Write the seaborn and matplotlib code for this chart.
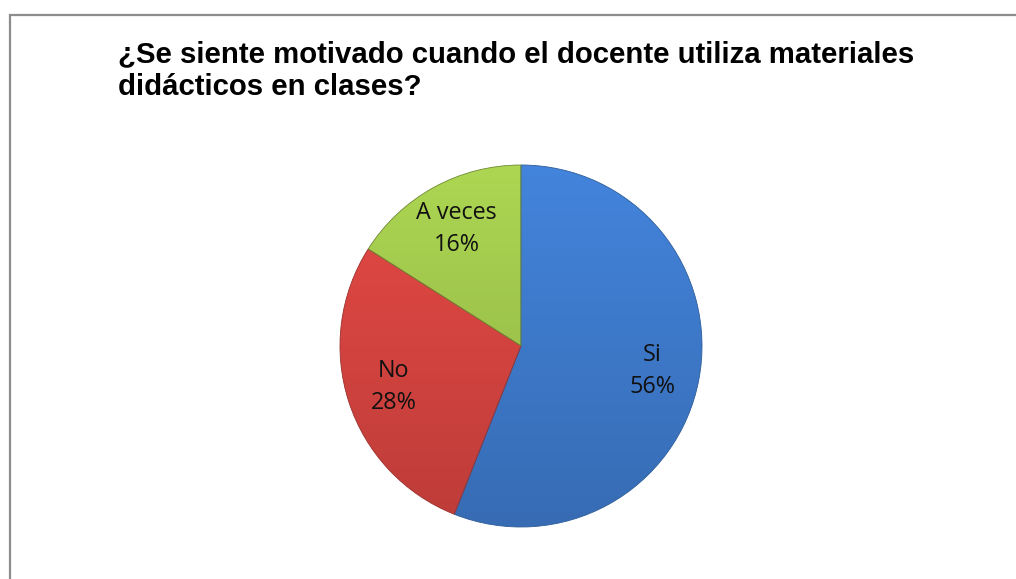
import matplotlib
matplotlib.use("Agg")
import matplotlib.pyplot as plt
import seaborn as sns
import numpy as np
from matplotlib.patches import Rectangle
from matplotlib.colors import to_rgb

categories = ["Si", "No", "A veces"]
values = [56, 28, 16]
colors = ["#3D78C8", "#D2433F", "#9DC34B"]
title_lines = ["¿Se siente motivado cuando el docente utiliza materiales",
               "didácticos en clases?"]

sns.set_theme(style="white")
plt.rcParams['font.family'] = ['Liberation Sans', 'DejaVu Sans']

fig = plt.figure(figsize=(10.16, 5.79), dpi=100)
fig.patch.set_facecolor("white")

# outer frame
fig.patches.append(Rectangle((9.5/1016, -0.1), 1.2, (579-14.5)/579 + 0.1,
                             transform=fig.transFigure, fill=False,
                             edgecolor="#8c8c8c", linewidth=1.6))

for i, line in enumerate(title_lines):
    fig.text(118/1016, 1 - (62 + 33*i)/579, line, ha="left", va="baseline",
             fontsize=21.2, fontweight="bold", color="black")

ax = fig.add_axes([(521-181)/1016, (579-346-181)/579, 362/1016, 362/579])
labels = [f"{c}\n{v}%" for c, v in zip(categories, values)]
wedges, texts = ax.pie(values, colors=colors, startangle=90, counterclock=False,
                       labels=labels, labeldistance=0.74,
                       wedgeprops=dict(linewidth=0.6),
                       textprops=dict(fontsize=16.8, ha="center", va="center",
                                      color="#111111",
                                      family=["Open Sans", "DejaVu Sans"]))
edge_cols = ["#2f5d99", "#9a302d", "#6f8a33"]
yy = np.linspace(1, -1, 256)[:, None] * np.ones((1, 4))
for w, ec, c in zip(wedges, edge_cols, colors):
    w.set_edgecolor(ec)
    base = np.array(to_rgb(c))
    # vertical shading: lighter on top, darker below
    f = 1 + 0.10 * yy[..., None]
    img = np.clip(base[None, None, :] * f, 0, 1)
    im = ax.imshow(img, extent=(-1, 1, -1, 1), origin="upper",
                   aspect="auto", zorder=w.get_zorder() + 0.1)
    im.set_clip_path(w)
    w.set_zorder(w.get_zorder() + 0.2)
    w.set_facecolor("none")
for t in texts:
    t.set_horizontalalignment("center")
    t.set_linespacing(1.45)
    t.set_zorder(5)
ax.set_xlim(-1, 1)
ax.set_ylim(-1, 1)
ax.set_aspect("equal")
ax.axis("off")

fig.savefig("out.png", dpi=100, facecolor="white")
